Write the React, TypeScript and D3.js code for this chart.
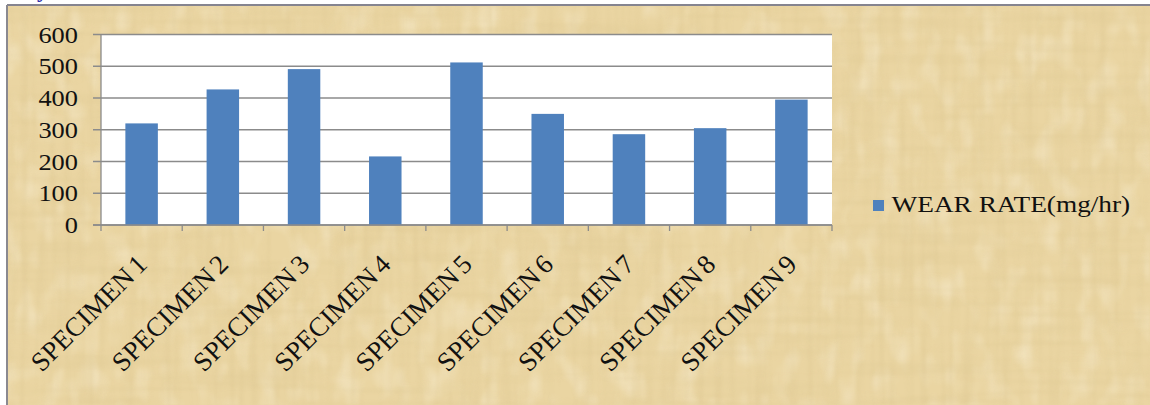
import React from "react";
import * as d3 from "d3";

// Wear rate per specimen (mg/hr)
const categories = [
  "SPECIMEN 1",
  "SPECIMEN 2",
  "SPECIMEN 3",
  "SPECIMEN 4",
  "SPECIMEN 5",
  "SPECIMEN 6",
  "SPECIMEN 7",
  "SPECIMEN 8",
  "SPECIMEN 9",
];
const wearRate = [320, 427, 491, 216, 512, 350, 286, 305, 395];
const yTicks = [0, 100, 200, 300, 400, 500, 600];
const seriesName = "WEAR RATE(mg/hr)";

const W = 1150;
const H = 405;
const plot = { left: 101, right: 832, top: 34.5, bottom: 225 };
const BAR = "#4F81BD";
const GRID = "#8b8b8b";
const FONT = "'Liberation Serif', 'Times New Roman', serif";
const SX = 1.1; // horizontal stretch of the value lettering

export default function App() {
  const x = d3
    .scaleBand<string>()
    .domain(categories)
    .range([plot.left, plot.right])
    .paddingInner(0.6)
    .paddingOuter(0.3);
  const y = d3.scaleLinear().domain([0, 600]).range([plot.bottom, plot.top]);
  const step = x.step();
  const tickXs = d3.range(categories.length + 1).map((i) => plot.left + i * step);

  return (
    <div style={{ position: "absolute", left: 0, top: 0 }}>
      <svg width={W} height={H} style={{ display: "block" }}>
        <defs>
          <filter id="fibV" x="0" y="0" width="100%" height="100%">
            <feTurbulence type="fractalNoise" baseFrequency="0.14 0.006" numOctaves="3" seed="4" />
            <feColorMatrix
              type="matrix"
              values="0 0 0 0 0.7  0 0 0 0 0.55  0 0 0 0 0.27  1.6 0 0 0 -0.7"
            />
            <feGaussianBlur stdDeviation="0.8" />
          </filter>
          <filter id="fibH" x="0" y="0" width="100%" height="100%">
            <feTurbulence type="fractalNoise" baseFrequency="0.006 0.12" numOctaves="3" seed="9" />
            <feColorMatrix
              type="matrix"
              values="0 0 0 0 0.7  0 0 0 0 0.55  0 0 0 0 0.27  1.6 0 0 0 -0.72"
            />
            <feGaussianBlur stdDeviation="0.8" />
          </filter>
          <filter id="light" x="0" y="0" width="100%" height="100%">
            <feTurbulence type="fractalNoise" baseFrequency="0.05 0.03" numOctaves="2" seed="2" />
            <feColorMatrix
              type="matrix"
              values="0 0 0 0 1  0 0 0 0 0.96  0 0 0 0 0.84  1.6 0 0 0 -0.75"
            />
            <feGaussianBlur stdDeviation="1" />
          </filter>
        </defs>

        <rect x={0} y={0} width={W} height={H} fill="#ffffff" />

        {/* title fragment above the frame */}
        <text x={37} y={-3} fontFamily={FONT} fontWeight="bold" fontSize={22} fill="#2b2ba8">
          y
        </text>

        {/* parchment panel */}
        <g>
          <rect x={8} y={6} width={W - 8} height={H - 6} fill="#EAD5A2" />
          <rect x={8} y={6} width={W - 8} height={H - 6} filter="url(#light)" opacity={0.5} />
          <rect x={8} y={6} width={W - 8} height={H - 6} filter="url(#fibV)" opacity={0.45} />
          <rect x={8} y={6} width={W - 8} height={H - 6} filter="url(#fibH)" opacity={0.4} />
          <line x1={7} x2={W} y1={5} y2={5} stroke="#85848f" strokeWidth={2} />
          <line x1={7} x2={7} y1={5} y2={H} stroke="#8a8990" strokeWidth={2} />
        </g>

        {/* plot area */}
        <rect
          x={plot.left}
          y={plot.top}
          width={plot.right - plot.left}
          height={plot.bottom - plot.top}
          fill="#ffffff"
        />

        {/* gridlines and y ticks */}
        {yTicks.map((t) => (
          <line
            key={"g" + t}
            x1={plot.left - 8}
            x2={plot.right}
            y1={y(t)}
            y2={y(t)}
            stroke={GRID}
            strokeWidth={1.3}
          />
        ))}

        {/* bars */}
        {categories.map((c, i) => (
          <rect
            key={c}
            x={x(c)}
            y={y(wearRate[i])}
            width={x.bandwidth()}
            height={y(0) - y(wearRate[i])}
            fill={BAR}
          />
        ))}

        {/* axes */}
        <line x1={plot.left} x2={plot.left} y1={plot.top} y2={plot.bottom} stroke={GRID} strokeWidth={1.3} />
        <line x1={plot.left - 8} x2={plot.right} y1={plot.bottom} y2={plot.bottom} stroke={GRID} strokeWidth={1.3} />
        {tickXs.map((tx, i) => (
          <line
            key={"xt" + i}
            x1={tx}
            x2={tx}
            y1={plot.bottom}
            y2={plot.bottom + 6}
            stroke={GRID}
            strokeWidth={1.3}
          />
        ))}

        {/* y labels */}
        {yTicks.map((t) => (
          <text
            key={"yl" + t}
            transform={`translate(78, ${y(t) + 8}) scale(${SX}, 1)`}
            textAnchor="end"
            fontFamily={FONT}
            fontSize={24}
            fill="#111"
          >
            {t}
          </text>
        ))}

        {/* category labels */}
        {categories.map((c) => {
          const cx = (x(c) as number) + x.bandwidth() / 2;
          return (
            <text
              key={"xl" + c}
              transform={`translate(${cx + 7}, 266) rotate(-45)`}
              textAnchor="end"
              fontFamily={FONT}
              fontSize={27}
              wordSpacing={-2.5}
              fill="#111"
            >
              {c}
            </text>
          );
        })}

        {/* legend */}
        <rect x={873} y={200} width={11} height={11} fill={BAR} />
        <text
          transform={`translate(891.5, 212) scale(${SX}, 1)`}
          fontFamily={FONT}
          fontSize={24}
          fill="#111"
          textLength={217}
          lengthAdjust="spacingAndGlyphs"
        >
          {seriesName}
        </text>
      </svg>
    </div>
  );
}
